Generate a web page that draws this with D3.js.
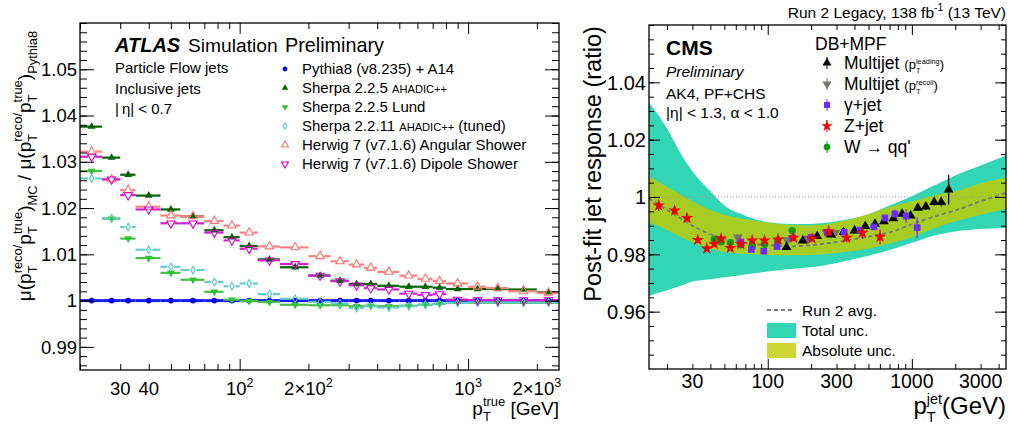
<!DOCTYPE html>
<html>
<head>
<meta charset="utf-8">
<script src="https://cdn.jsdelivr.net/npm/d3@7"></script>
<style>
  body { margin: 0; background: #fff; }
  svg text { font-family: "Liberation Sans", Arial, Helvetica, sans-serif; }
</style>
</head>
<body>
<svg id="fig" width="1011" height="425"></svg>
<script>
// ---------- left panel : ATLAS MC ratios ----------
const binEdges = [20, 25, 30, 35, 45, 55, 70, 85, 100, 120, 150, 200, 250, 300, 350, 400, 500, 600, 700, 800, 1000, 1200, 1500, 2000, 2500];
const pythiaVals = [1, 1, 1, 1, 1, 1, 1, 1, 1, 1, 1, 1, 1, 1, 1, 1, 1, 1, 1, 1, 1, 1, 1, 1];
const sherpaAhadicVals = [1.0376, 1.0309, 1.0272, 1.0227, 1.0197, 1.0182, 1.0152, 1.0137, 1.0118, 1.0089, 1.0072, 1.0054, 1.0043, 1.0036, 1.0036, 1.0032, 1.003, 1.003, 1.0028, 1.0025, 1.0025, 1.0025, 1.0024, 1.0018];
const sherpaLundVals = [1.028, 1.0177, 1.0134, 1.0092, 1.006, 1.0045, 1.0019, 1.0002, 0.9999, 0.9997, 0.9991, 0.999, 0.999, 0.9988, 0.9989, 0.9988, 0.9989, 0.9991, 0.9993, 0.9995, 0.9995, 0.9995, 0.9995, 0.9995];
const sherpaTunedVals = [1.0264, 1.0178, 1.0159, 1.011, 1.0073, 1.0066, 1.004, 1.0031, 1.0037, 1.0014, 1.0004, 0.9997, 0.9994, 0.9984, 0.9988, 0.9985, 0.9988, 0.9991, 0.9993, 0.9995, 0.9996, 0.9996, 0.9996, 0.9996];
const herwigAngVals = [1.0322, 1.0262, 1.0239, 1.0203, 1.0184, 1.0182, 1.0172, 1.0162, 1.0147, 1.0117, 1.0115, 1.0096, 1.0085, 1.0078, 1.0071, 1.0062, 1.0054, 1.0047, 1.0042, 1.0037, 1.003, 1.0027, 1.002, 1.0017];
const herwigDipVals = [1.0311, 1.0262, 1.0228, 1.0197, 1.0167, 1.0167, 1.0147, 1.013, 1.0112, 1.0087, 1.0079, 1.0054, 1.0042, 1.0033, 1.0027, 1.0024, 1.0015, 1.0012, 1.0014, 1.0002, 1.0001, 1.0001, 1.0001, 1.0001];
const leftYTicks = [0.99, 1, 1.01, 1.02, 1.03, 1.04, 1.05];
const leftYTickLabels = ["0.99", "1", "1.01", "1.02", "1.03", "1.04", "1.05"];

// ---------- right panel : CMS jet response ----------
const bandPt = [15, 20, 25, 30, 40, 50, 70, 100, 150, 200, 300, 500, 700, 1000, 1500, 2000, 3000, 4500];
const totalHi = [1.033, 1.024, 1.015, 1.009, 1.002, 0.997, 0.9935, 0.9912, 0.9906, 0.9906, 0.9915, 0.994, 0.997, 1.0003, 1.0045, 1.0075, 1.011, 1.0145];
const totalLo = [0.9655, 0.9675, 0.969, 0.9705, 0.9713, 0.972, 0.973, 0.974, 0.975, 0.9755, 0.977, 0.9795, 0.9815, 0.984, 0.9868, 0.988, 0.9888, 0.9893];
const absHi = [1.0072, 1.0035, 1.0008, 0.9985, 0.9955, 0.9938, 0.9922, 0.991, 0.9902, 0.9901, 0.9912, 0.994, 0.9965, 0.9985, 1.0008, 1.002, 1.0048, 1.0068];
const absLo = [0.991, 0.9885, 0.986, 0.9842, 0.982, 0.9808, 0.9801, 0.9798, 0.9797, 0.9798, 0.9805, 0.982, 0.9838, 0.986, 0.9895, 0.9915, 0.9938, 0.9958];
const avgVals = [0.9995, 0.9955, 0.9925, 0.99, 0.987, 0.9855, 0.984, 0.9832, 0.9828, 0.9832, 0.9843, 0.9862, 0.9877, 0.9905, 0.9935, 0.9953, 0.9985, 1.0014];

const mjLeadPt = [135, 175, 220, 275, 335, 400, 475, 555, 640, 745, 855, 980, 1100, 1250, 1430, 1600, 1800];
const mjLeadVals = [0.9825, 0.9848, 0.9863, 0.9869, 0.9877, 0.9883, 0.9898, 0.9906, 0.9915, 0.9925, 0.9941, 0.9935, 0.9962, 0.9966, 0.9982, 0.9982, 1.0026];
const mjLeadErr = [0.0005, 0.0005, 0.0005, 0.0005, 0.0005, 0.0005, 0.0005, 0.0005, 0.0005, 0.0006, 0.0006, 0.0007, 0.0008, 0.001, 0.0012, 0.0015, 0.0052];
const mjRecoilPt = [62, 136, 189, 254, 294];
const mjRecoilVals = [0.9859, 0.985, 0.9855, 0.9877, 0.9875];
const mjRecoilErr = [0.0006, 0.0005, 0.0005, 0.0006, 0.0006];
const gjetPt = [65, 77, 94, 116, 149, 199, 259, 339, 437, 546, 651, 763, 911, 1088];
const gjetVals = [0.9843, 0.9817, 0.9811, 0.9827, 0.9857, 0.9859, 0.9877, 0.9877, 0.9884, 0.9896, 0.9927, 0.9941, 0.9933, 0.9893];
const gjetErr = [0.0008, 0.0008, 0.0007, 0.0006, 0.0006, 0.0006, 0.0006, 0.0007, 0.0008, 0.001, 0.0012, 0.0015, 0.0023, 0.0036];
const zjetPt = [17.5, 22.6, 27.5, 32.7, 37.8, 42.6, 47.4, 55, 65, 78, 95, 118, 151, 203, 265, 352, 454, 601];
const zjetVals = [0.997, 0.9953, 0.9927, 0.985, 0.982, 0.9836, 0.9855, 0.9822, 0.9836, 0.9848, 0.9848, 0.9852, 0.9858, 0.9855, 0.988, 0.9858, 0.9875, 0.9861];
const zjetErr = [0.0019, 0.0012, 0.001, 0.0008, 0.0007, 0.0007, 0.0007, 0.0007, 0.0007, 0.0007, 0.0008, 0.0008, 0.0009, 0.001, 0.0013, 0.0016, 0.002, 0.0026];
const wPt = [42.6, 47.4, 55, 65, 78, 95, 117, 148];
const wVals = [0.9853, 0.9844, 0.9841, 0.9833, 0.9826, 0.9835, 0.9848, 0.9883];
const wErr = [0.0008, 0.0007, 0.0007, 0.0007, 0.0007, 0.0008, 0.0009, 0.0012];
const rightYTicks = [0.96, 0.98, 1, 1.02, 1.04];
const rightYTickLabels = ["0.96", "0.98", "1", "1.02", "1.04"];
const rightXTicks = [30, 100, 300, 1000, 3000];
const rightXTickLabels = ["30", "100", "300", "1000", "3000"];

const svg = d3.select("#fig");

// 文字排版：支持上下标叠放 (ROOT 风格 p_T^reco)
function richText(parent, x, y, parts, size, opts = {}) {
  const g = parent.append("g")
    .attr("transform", `translate(${x},${y})` + (opts.rotate ? ` rotate(${opts.rotate})` : ""));
  const inner = g.append("g");
  let cx = 0;
  parts.forEach((p) => {
    if (typeof p === "string") p = { t: p };
    const s = size * (p.scale || 1);
    if (p.t !== undefined) {
      const t = inner.append("text")
        .attr("xml:space", "preserve")
        .attr("x", cx).attr("y", 0)
        .attr("font-size", s)
        .attr("fill", opts.fill || "#000")
        .text(p.t);
      if (p.bold) t.attr("font-weight", "bold");
      if (p.italic) t.attr("font-style", "italic");
      cx += t.node().getComputedTextLength();
    } else {
      const ss = s * (p.small || 0.68);
      let w = 0;
      if (p.sub) {
        const t = inner.append("text").attr("x", cx).attr("y", s * 0.33).attr("font-size", ss).text(p.sub);
        w = Math.max(w, t.node().getComputedTextLength());
      }
      if (p.sup) {
        const t = inner.append("text").attr("x", cx).attr("y", -s * (p.rise || 0.45)).attr("font-size", ss).text(p.sup);
        w = Math.max(w, t.node().getComputedTextLength());
      }
      cx += w;
    }
  });
  if (opts.anchor === "end") inner.attr("transform", `translate(${-cx},0)`);
  else if (opts.anchor === "middle") inner.attr("transform", `translate(${-cx / 2},0)`);
  return g;
}

function sym(g, type, x, y, size, fill, stroke, rot) {
  return g.append("path")
    .attr("d", d3.symbol().type(type).size(size)())
    .attr("transform", `translate(${x},${y})` + (rot ? ` rotate(${rot})` : ""))
    .attr("fill", fill)
    .attr("stroke", stroke || "none")
    .attr("stroke-width", 1.1);
}

// ROOT 风格刻度（向内）
function drawTicks(g, xs, ys, box, xMajor, xMinor, yMajor, yMinor, xLen, yLen) {
  const ax = (gen, tr) => g.append("g").attr("transform", tr).call(gen).call((a) => {
    a.select(".domain").remove();
    a.selectAll("text").remove();
    a.selectAll("line").attr("stroke", "#000").attr("stroke-width", 1);
  });
  ax(d3.axisBottom(xs).tickValues(xMajor).tickSize(-xLen[0]), `translate(0,${box.y1})`);
  ax(d3.axisBottom(xs).tickValues(xMinor).tickSize(-xLen[1]), `translate(0,${box.y1})`);
  ax(d3.axisTop(xs).tickValues(xMajor).tickSize(-xLen[0]), `translate(0,${box.y0})`);
  ax(d3.axisTop(xs).tickValues(xMinor).tickSize(-xLen[1]), `translate(0,${box.y0})`);
  ax(d3.axisLeft(ys).tickValues(yMajor).tickSize(-yLen[0]), `translate(${box.x0},0)`);
  ax(d3.axisLeft(ys).tickValues(yMinor).tickSize(-yLen[1]), `translate(${box.x0},0)`);
  ax(d3.axisRight(ys).tickValues(yMajor).tickSize(-yLen[0]), `translate(${box.x1},0)`);
  ax(d3.axisRight(ys).tickValues(yMinor).tickSize(-yLen[1]), `translate(${box.x1},0)`);
  g.append("rect")
    .attr("x", box.x0).attr("y", box.y0)
    .attr("width", box.x1 - box.x0).attr("height", box.y1 - box.y0)
    .attr("fill", "none").attr("stroke", "#000").attr("stroke-width", 1.3);
}

const logMinor = (lo, hi) => {
  const out = [];
  for (let dec = 10; dec <= hi; dec *= 10) {
    for (let m = 2; m <= 9; m++) {
      const v = m * dec;
      if (v >= lo && v <= hi) out.push(v);
    }
  }
  return out;
};

// ================= LEFT PANEL =================
const L = { x0: 80, x1: 559, y0: 23, y1: 370 };
const xL = d3.scaleLog().domain([20, 2500]).range([L.x0, L.x1]);
const yL = d3.scaleLinear().domain([0.985, 1.06]).range([L.y1, L.y0]);
const gL = svg.append("g");

const leftSeries = [
  { label: [{ t: "Pythia8 (v8.235) + A14" }], vals: pythiaVals, color: "#0000ee", bar: "#1a1aff", type: d3.symbolCircle, size: 26, open: false, lw: 3 },
  { label: [{ t: "Sherpa 2.2.5 " }, { t: "AHADIC++", scale: 0.74 }], vals: sherpaAhadicVals, color: "#006400", bar: "#006400", type: d3.symbolTriangle, size: 26, open: false, lw: 2.2 },
  { label: [{ t: "Sherpa 2.2.5 Lund" }], vals: sherpaLundVals, color: "#33c033", bar: "#44c044", type: d3.symbolTriangle, size: 26, open: false, rot: 180, lw: 2.2 },
  { label: [{ t: "Sherpa 2.2.11 " }, { t: "AHADIC++", scale: 0.74 }, { t: " (tuned)" }], vals: sherpaTunedVals, color: "#55c8c8", bar: "#66cccc", type: d3.symbolDiamond, size: 17, open: true, lw: 2.2 },
  { label: [{ t: "Herwig 7 (v7.1.6) Angular Shower" }], vals: herwigAngVals, color: "#ff6f6f", bar: "#ff8080", type: d3.symbolTriangle, size: 30, open: true, lw: 2.2 },
  { label: [{ t: "Herwig 7 (v7.1.6) Dipole Shower" }], vals: herwigDipVals, color: "#d000d0", bar: "#d020d0", type: d3.symbolTriangle, size: 30, open: true, rot: 180, lw: 2.2 },
];

const plotL = gL.append("g");
leftSeries.forEach((s) => {
  s.vals.forEach((v, i) => {
    const xa = xL(binEdges[i]), xb = xL(binEdges[i + 1]);
    const xc = xL((binEdges[i] + binEdges[i + 1]) / 2);
    const yc = yL(v);
    const gap = s.open ? 3.5 : 0;
    plotL.append("line").attr("x1", xa).attr("x2", xc - gap).attr("y1", yc).attr("y2", yc)
      .attr("stroke", s.bar).attr("stroke-width", s.lw);
    plotL.append("line").attr("x1", xc + gap).attr("x2", xb).attr("y1", yc).attr("y2", yc)
      .attr("stroke", s.bar).attr("stroke-width", s.lw);
  });
  s.vals.forEach((v, i) => {
    const xc = xL((binEdges[i] + binEdges[i + 1]) / 2);
    sym(plotL, s.type, xc, yL(v), s.size, s.open ? "none" : s.color, s.open ? s.color : null, s.rot);
  });
});

drawTicks(gL, xL, yL, L, [100, 1000], logMinor(20, 2500).filter((d) => d !== 100 && d !== 1000),
  leftYTicks, d3.range(0.986, 1.0601, 0.002), [11, 6], [14, 7]);

// y tick labels
leftYTicks.forEach((v, i) => {
  gL.append("text").attr("x", L.x0 - 3).attr("y", yL(v)).attr("dy", "0.36em")
    .attr("text-anchor", "end").attr("font-size", 18.5).text(leftYTickLabels[i]);
});
// x tick labels
const leftXLabels = [
  { v: 30, parts: ["30"] },
  { v: 40, parts: ["40"] },
  { v: 100, parts: ["10", { sup: "2" }] },
  { v: 200, parts: ["2\u00d710", { sup: "2" }] },
  { v: 1000, parts: ["10", { sup: "3" }] },
  { v: 2000, parts: ["2\u00d710", { sup: "3" }] },
];
leftXLabels.forEach((d) => richText(gL, xL(d.v), 395, d.parts, 18.5, { anchor: "middle" }));

// axis titles
richText(gL, L.x1, 415, ["p", { sub: "T", sup: "true" }, " [GeV]"], 19, { anchor: "end" });
richText(gL, 31, 166, [
  "\u03bc(p", { sub: "T", sup: "reco/" }, "p", { sub: "T", sup: "true" }, ")", { sub: "MC" },
  " / \u03bc(p", { sub: "T", sup: "reco/" }, "p", { sub: "T", sup: "true" }, ")", { sub: "Pythia8" },
], 19, { anchor: "middle", rotate: -90 });

// ATLAS labels
gL.append("text").attr("x", 115).attr("y", 52).attr("font-size", 20)
  .attr("font-weight", "bold").attr("font-style", "italic").text("ATLAS");
gL.append("text").attr("x", 188).attr("y", 52).attr("font-size", 19.2).text("Simulation");
gL.append("text").attr("x", 285).attr("y", 52).attr("font-size", 19.8).text("Preliminary");
["Particle Flow jets", "Inclusive jets", "|\u2009\u03b7| < 0.7"].forEach((t, i) => {
  gL.append("text").attr("x", 115).attr("y", 73 + i * 20.5).attr("font-size", 15).text(t);
});

// legend
leftSeries.forEach((s, i) => {
  const cy = 69 + i * 19;
  sym(gL, s.type, 285, cy, s.size * 0.7, s.open ? "none" : s.color, s.open ? s.color : null, s.rot);
  richText(gL, 302, cy + 5, s.label, 15);
});

// ================= RIGHT PANEL =================
const R = { x0: 649, x1: 1006, y0: 25, y1: 369 };
const xR = d3.scaleLog().domain([15, 4500]).range([R.x0, R.x1]);
const yR = d3.scaleLinear().domain([0.94, 1.06]).range([R.y1, R.y0]);
const gR = svg.append("g");

svg.append("defs").append("clipPath").attr("id", "clipR").append("rect")
  .attr("x", R.x0).attr("y", R.y0).attr("width", R.x1 - R.x0).attr("height", R.y1 - R.y0);
const plotR = gR.append("g").attr("clip-path", "url(#clipR)");

const bandRows = bandPt.map((p, i) => ({ pt: p, tlo: totalLo[i], thi: totalHi[i], alo: absLo[i], ahi: absHi[i], avg: avgVals[i] }));
plotR.append("path").datum(bandRows)
  .attr("d", d3.area().x((d) => xR(d.pt)).y0((d) => yR(d.tlo)).y1((d) => yR(d.thi)).curve(d3.curveMonotoneX))
  .attr("fill", "#33d6b4");
plotR.append("path").datum(bandRows)
  .attr("d", d3.area().x((d) => xR(d.pt)).y0((d) => yR(d.alo)).y1((d) => yR(d.ahi)).curve(d3.curveMonotoneX))
  .attr("fill", "#a8cd22");
plotR.append("line").attr("x1", R.x0).attr("x2", R.x1).attr("y1", yR(1)).attr("y2", yR(1))
  .attr("stroke", "#999").attr("stroke-width", 1).attr("stroke-dasharray", "1,2");
plotR.append("path").datum(bandRows)
  .attr("d", d3.line().x((d) => xR(d.pt)).y((d) => yR(d.avg)).curve(d3.curveMonotoneX))
  .attr("fill", "none").attr("stroke", "#777").attr("stroke-width", 1.8).attr("stroke-dasharray", "4,3");

const rightSeries = [
  { name: "W", pts: wPt, vals: wVals, errs: wErr, color: "#109a10", type: d3.symbolCircle, size: 42 },
  { name: "recoil", pts: mjRecoilPt, vals: mjRecoilVals, errs: mjRecoilErr, color: "#74746a", type: d3.symbolTriangle, size: 42, rot: 180 },
  { name: "leading", pts: mjLeadPt, vals: mjLeadVals, errs: mjLeadErr, color: "#000", type: d3.symbolTriangle, size: 42 },
  { name: "gjet", pts: gjetPt, vals: gjetVals, errs: gjetErr, color: "#6a2cff", type: d3.symbolSquare, size: 44 },
  { name: "zjet", pts: zjetPt, vals: zjetVals, errs: zjetErr, color: "#ee0000", type: d3.symbolStar, size: 48 },
];
rightSeries.forEach((s) => {
  s.pts.forEach((p, i) => {
    plotR.append("line").attr("x1", xR(p)).attr("x2", xR(p))
      .attr("y1", yR(s.vals[i] - s.errs[i])).attr("y2", yR(s.vals[i] + s.errs[i]))
      .attr("stroke", s.color).attr("stroke-width", 1.2);
  });
  s.pts.forEach((p, i) => sym(plotR, s.type, xR(p), yR(s.vals[i]), s.size, s.color, null, s.rot));
});

drawTicks(gR, xR, yR, R, [100, 1000], logMinor(15, 4500).filter((d) => d !== 100 && d !== 1000),
  rightYTicks, d3.range(0.945, 1.0601, 0.005), [10, 5], [11, 5]);

rightYTicks.forEach((v, i) => {
  gR.append("text").attr("x", R.x0 - 3).attr("y", yR(v)).attr("dy", "0.36em")
    .attr("text-anchor", "end").attr("font-size", 20).text(rightYTickLabels[i]);
});
rightXTicks.forEach((v, i) => {
  gR.append("text").attr("x", xR(v)).attr("y", 388).attr("text-anchor", "middle")
    .attr("font-size", 19.5).text(rightXTickLabels[i]);
});

richText(gR, R.x1, 414, ["p", { sub: "T", sup: "jet", small: 0.6, rise: 0.4 }, "(GeV)"], 24, { anchor: "end" });
gR.append("text").attr("transform", "translate(601,164) rotate(-90)")
  .attr("text-anchor", "middle").attr("font-size", 23.5).text("Post-fit jet response (ratio)");
richText(gR, R.x1, 18, ["Run 2 Legacy, 138 fb", { sup: "-1" }, " (13 TeV)"], 15.5, { anchor: "end" });

gR.append("text").attr("x", 666).attr("y", 55).attr("font-size", 21).attr("font-weight", "bold").text("CMS");
gR.append("text").attr("x", 666).attr("y", 77).attr("font-size", 15.5).attr("font-style", "italic").text("Preliminary");
gR.append("text").attr("x", 666).attr("y", 99).attr("font-size", 15.5).text("AK4, PF+CHS");
gR.append("text").attr("x", 666).attr("y", 118).attr("font-size", 15.5).text("|\u03b7| < 1.3, \u03b1 < 1.0");

// legend top right
gR.append("text").attr("x", 815).attr("y", 50).attr("font-size", 17.5).text("DB+MPF");
const rightLegend = [
  { s: rightSeries[2], parts: ["Multijet ", { t: "(p", scale: 0.75 }, { sub: "T", sup: "leading", scale: 0.62 }, { t: ")", scale: 0.75 }] },
  { s: rightSeries[1], parts: ["Multijet ", { t: "(p", scale: 0.75 }, { sub: "T", sup: "recoil", scale: 0.62 }, { t: ")", scale: 0.75 }] },
  { s: rightSeries[3], parts: ["\u03b3+jet"] },
  { s: rightSeries[4], parts: ["Z+jet"] },
  { s: rightSeries[0], parts: ["W \u2192 qq'"] },
];
rightLegend.forEach((d, i) => {
  const cy = 63 + i * 21;
  gR.append("line").attr("x1", 827).attr("x2", 827).attr("y1", cy - 6).attr("y2", cy + 6)
    .attr("stroke", d.s.color).attr("stroke-width", 1);
  sym(gR, d.s.type, 827, cy, d.s.size * 0.85, d.s.color, null, d.s.rot);
  richText(gR, 844, cy + 6, d.parts, 17.5);
});

// legend bottom
gR.append("line").attr("x1", 767).attr("x2", 794).attr("y1", 310).attr("y2", 310)
  .attr("stroke", "#777").attr("stroke-width", 1.8).attr("stroke-dasharray", "4,3");
gR.append("text").attr("x", 802).attr("y", 316).attr("font-size", 15.5).text("Run 2 avg.");
gR.append("rect").attr("x", 767).attr("y", 323).attr("width", 29).attr("height", 15).attr("fill", "#33d6b4");
gR.append("text").attr("x", 802).attr("y", 336).attr("font-size", 15.5).text("Total unc.");
gR.append("rect").attr("x", 767).attr("y", 343).attr("width", 29).attr("height", 15).attr("fill", "#cdd634");
gR.append("text").attr("x", 802).attr("y", 356).attr("font-size", 15.5).text("Absolute unc.");
</script>
</body>
</html>
